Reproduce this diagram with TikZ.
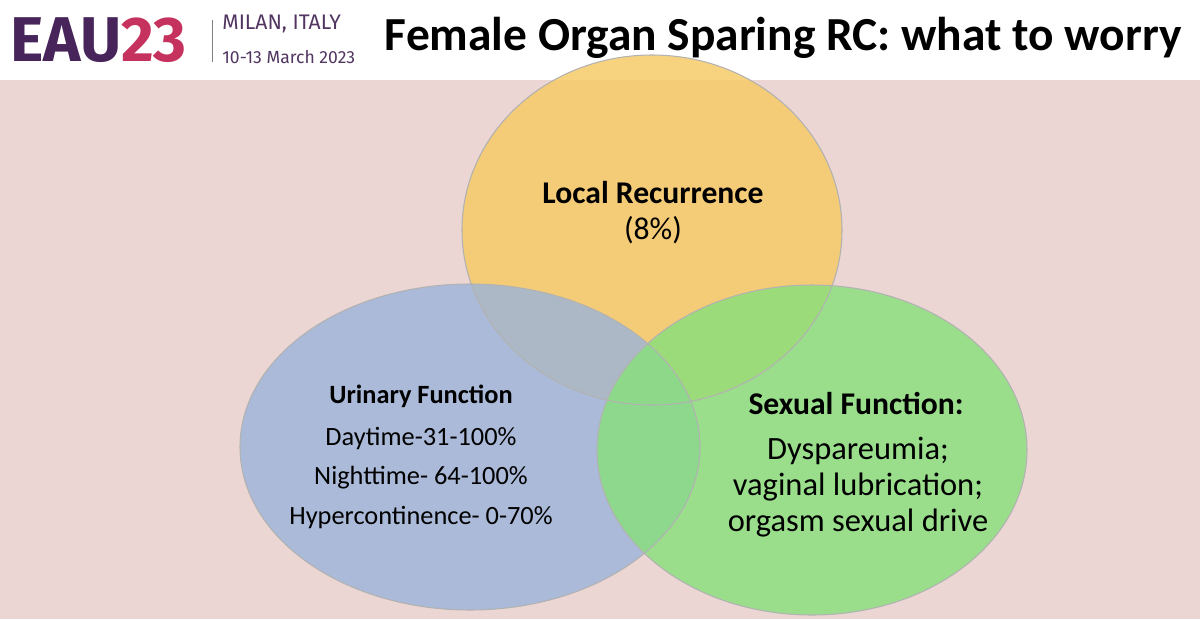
\documentclass[tikz,border=0pt]{standalone}
\usepackage{fontspec}
\setmainfont{Carlito}
\newfontfamily\logofont{Fira Sans}
\definecolor{bgpink}{HTML}{EBD6D4}
\definecolor{eaupurple}{HTML}{472459}
\definecolor{eaured}{HTML}{C5325E}
\definecolor{cyel}{HTML}{F7C960}
\definecolor{cblue}{HTML}{9AB4DA}
\definecolor{cgreen}{HTML}{86E07A}
\begin{document}
\begin{tikzpicture}[x=0.02cm,y=-0.02cm,
  circ/.style={fill opacity=0.8},
  lbl/.style={align=center,font=\fontsize{15}{19}\selectfont,inner sep=0}]
\useasboundingbox (0,0) rectangle (1200,619);
\fill[bgpink] (0,0) rectangle (1200,619);
\fill[white] (0,0) rectangle (1200,80);
\node[anchor=west,inner sep=0,font=\logofont\fontsize{36}{36}\selectfont\bfseries] (logo) at (10,40) {\color{eaupurple}EAU\color{eaured}23};
\draw[gray,line width=0.5pt] (212,20) -- (212,62);
\node[anchor=west,inner sep=0,font=\logofont\fontsize{12}{14}\selectfont,text=eaupurple!80!gray] (city) at (222,24) {MILAN, ITALY};
\node[anchor=west,inner sep=0,font=\logofont\fontsize{10}{12}\selectfont,text=eaupurple!80!gray] (date) at (222,57) {10-13 March 2023};
\node[anchor=east,inner sep=0,font=\fontsize{27}{30}\selectfont\bfseries] (title) at (1182,38) {Female Organ Sparing RC: what to worry};
\fill[circ,fill=cyel] (652,230) ellipse [x radius=190,y radius=175];
\fill[circ,fill=cblue] (470,447) ellipse [x radius=230,y radius=163];
\fill[circ,fill=cgreen] (812,450) ellipse [x radius=215,y radius=165];
\draw[gray!60,line width=0.6pt] (652,230) ellipse [x radius=190,y radius=175];
\draw[gray!60,line width=0.6pt] (470,447) ellipse [x radius=230,y radius=163];
\draw[gray!60,line width=0.6pt] (812,450) ellipse [x radius=215,y radius=165];
\node[lbl,font=\fontsize{18}{21}\selectfont\bfseries] (lr) at (653,193) {Local Recurrence};
\node[lbl,font=\fontsize{18}{21}\selectfont] (lrp) at (653,230) {(8\%)};
\node[lbl,font=\fontsize{15}{18}\selectfont\bfseries] (uf) at (421,396) {Urinary Function};
\node[lbl] (u1) at (421,439) {Daytime-31-100\%};
\node[lbl] (u2) at (421,478) {Nighttime- 64-100\%};
\node[lbl] (u3) at (421,518) {Hypercontinence- 0-70\%};
\node[lbl,font=\fontsize{18}{21}\selectfont\bfseries] (sf) at (856,403) {Sexual Function:};
\node[lbl,font=\fontsize{18.5}{20.5}\selectfont] (s1) at (858,487) {Dyspareumia;\\vaginal lubrication;\\orgasm sexual drive};
\end{tikzpicture}
\end{document}
